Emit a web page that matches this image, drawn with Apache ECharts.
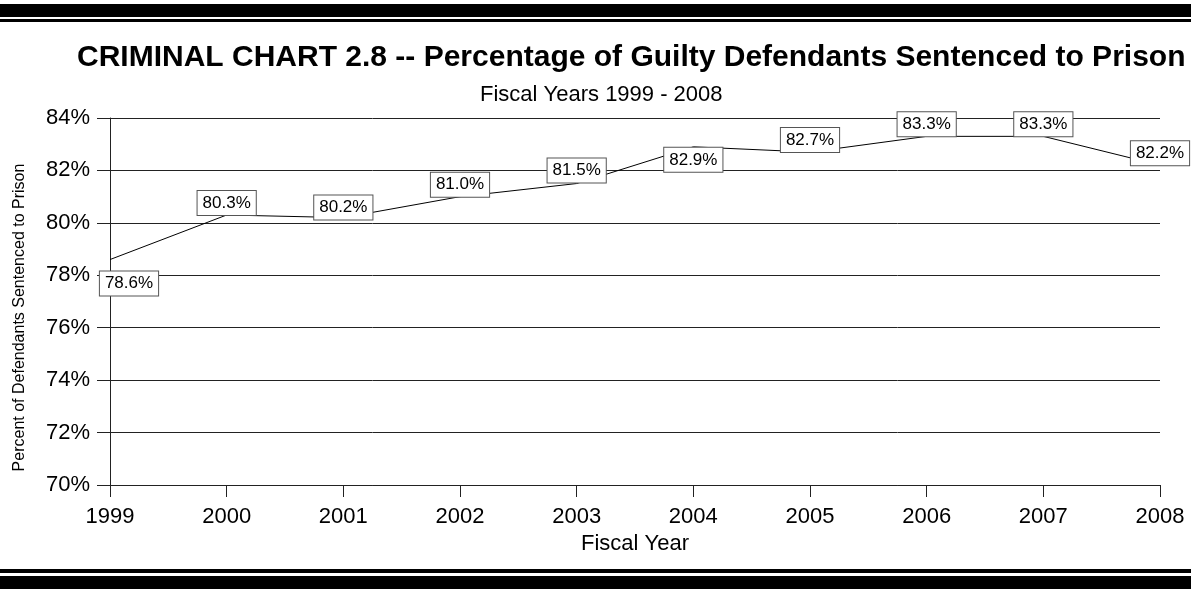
<!DOCTYPE html>
<html>
<head>
<meta charset="utf-8">
<script src="https://cdn.jsdelivr.net/npm/echarts@6/dist/echarts.min.js"></script>
<style>
html,body{margin:0;padding:0;background:#fff;}
#chart{width:1191px;height:592px;}
</style>
</head>
<body>
<div id="chart"></div>
<script>
// Data
var years = ['1999','2000','2001','2002','2003','2004','2005','2006','2007','2008'];
var percentPrison = [78.6, 80.3, 80.2, 81.0, 81.5, 82.9, 82.7, 83.3, 83.3, 82.2];
var yTicks = [70, 72, 74, 76, 78, 80, 82, 84];

// label placement (style only)
var labelShift = [[19,24],[0,-12],[0,-10],[0,-12],[0,-13],[0,13],[0,-12],[0,-12],[0,-12],[0,-12]];

var font = 'Liberation Sans, Arial, sans-serif';
var chart = echarts.init(document.getElementById('chart'));

var seriesData = percentPrison.map(function(v, i){
  return {
    value: v,
    label: { offset: labelShift[i] }
  };
});

chart.setOption({
  animation: false,
  backgroundColor: '#fff',
  title: [{
    text: 'CRIMINAL CHART 2.8 -- Percentage of Guilty Defendants Sentenced to Prison',
    left: 72, top: 38,
    textStyle: { fontFamily: font, fontWeight: 'bold', fontSize: 30, color: '#000' }
  },{
    text: 'Fiscal Years 1999 - 2008',
    left: 475, top: 79,
    textStyle: { fontFamily: font, fontWeight: 'normal', fontSize: 22, color: '#000' }
  }],
  graphic: [
    { type: 'rect', shape: { x: 0, y: 4, width: 1191, height: 13 }, style: { fill: '#000' } },
    { type: 'rect', shape: { x: 0, y: 19, width: 1191, height: 3 }, style: { fill: '#000' } },
    { type: 'rect', shape: { x: 0, y: 569, width: 1191, height: 4 }, style: { fill: '#000' } },
    { type: 'rect', shape: { x: 0, y: 576, width: 1191, height: 13 }, style: { fill: '#000' } }
  ],
  grid: { left: 110, right: 31, top: 118, bottom: 107, containLabel: false },
  xAxis: {
    type: 'category',
    data: years,
    boundaryGap: false,
    name: 'Fiscal Year',
    nameLocation: 'middle',
    nameGap: 44,
    nameTextStyle: { fontFamily: font, fontSize: 22, color: '#000' },
    axisLine: { show: true, lineStyle: { color: '#222', width: 1 } },
    axisTick: { show: true, length: 12, alignWithLabel: true, lineStyle: { color: '#222' } },
    axisLabel: { fontFamily: font, fontSize: 22, color: '#000', margin: 21 },
    splitLine: { show: false }
  },
  yAxis: {
    type: 'value',
    min: yTicks[0],
    max: yTicks[yTicks.length - 1],
    interval: 2,
    name: 'Percent of Defendants Sentenced to Prison',
    nameLocation: 'middle',
    nameGap: 82,
    nameRotate: 90,
    nameTextStyle: { fontFamily: font, fontSize: 16, color: '#000', padding: [0, 32, 0, 0] },
    axisLine: { show: true, lineStyle: { color: '#222', width: 1 } },
    axisTick: { show: true, length: 13, lineStyle: { color: '#222' } },
    axisLabel: { fontFamily: font, fontSize: 22, color: '#000', margin: 20, formatter: '{value}%' },
    splitLine: { show: true, lineStyle: { color: '#222', width: 1 } }
  },
  series: [{
    type: 'line',
    data: seriesData,
    showSymbol: true,
    symbol: 'circle',
    symbolSize: 1,
    itemStyle: { color: 'rgba(0,0,0,0)' },
    lineStyle: { color: '#000', width: 1 },
    label: {
      show: true,
      position: 'inside',
      formatter: function(p){ return p.value.toFixed(1) + '%'; },
      fontFamily: font,
      fontSize: 17,
      color: '#000',
      backgroundColor: '#fff',
      borderColor: '#555',
      borderWidth: 1,
      padding: [4, 5, 3, 5]
    }
  }]
});
</script>
</body>
</html>
